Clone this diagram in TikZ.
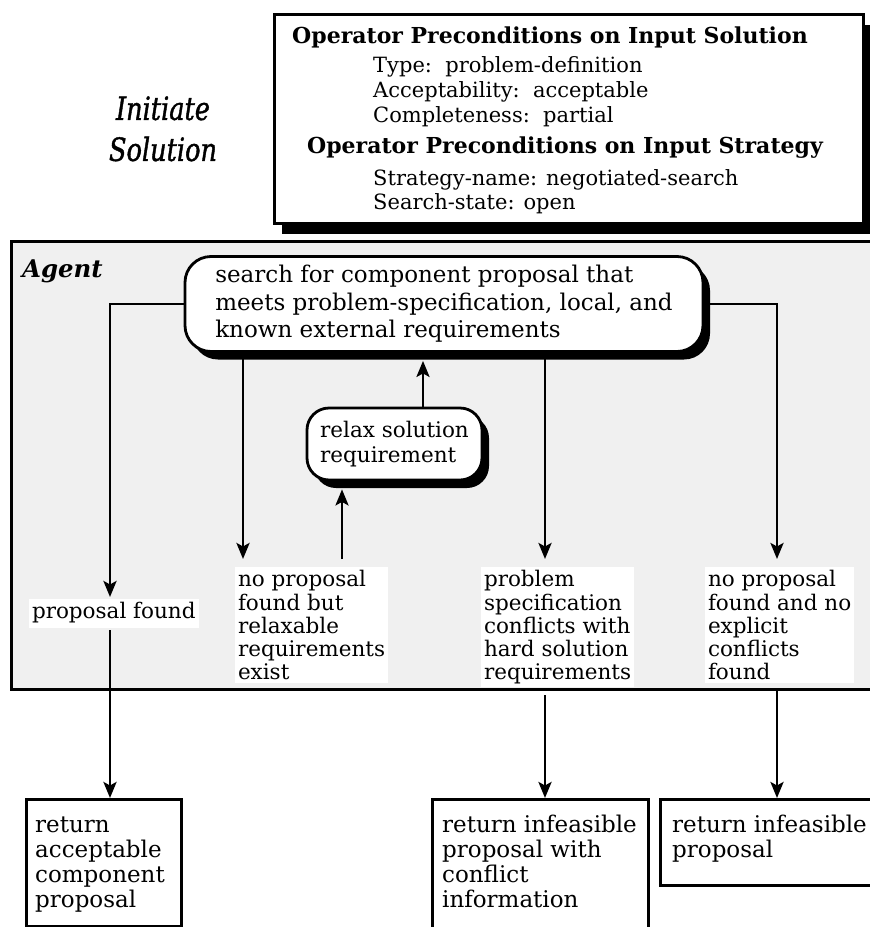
\documentclass[tikz,border=0pt]{standalone}
\usepackage{fontspec}
\setmainfont{DejaVu Serif}
\newfontfamily\titlefont[FakeStretch=0.8,FakeBold=1.2]{DejaVu Serif}
\usetikzlibrary{arrows.meta,shadows}
\newcommand{\fsz}[2]{\fontsize{#1}{#2}\selectfont}
\begin{document}
\begin{tikzpicture}[x=1pt,y=-1pt,
  frame/.style={draw=black, line width=2.8pt, fill=white},
  shadowed/.style={drop shadow={shadow xshift=7pt,shadow yshift=-8pt,opacity=1,fill=black}},
  conn/.style={line width=2.8pt},
  arr/.style={conn,-{Stealth[length=16pt,width=13pt,inset=3.5pt]}},
  lbl/.style={anchor=north west, align=left, fill=white, inner sep=3pt, outer sep=8pt, font=\fsz{21.5}{23}},
  body/.style={anchor=north west, align=left, inner sep=0pt, font=\fsz{23}{25}},
  head/.style={anchor=base, inner sep=0pt, font=\bfseries\fsz{22}{26}},
  item/.style={anchor=base west, inner sep=0pt, font=\fsz{21}{24}},
]
\useasboundingbox (0,0) rectangle (870,927);

% operator preconditions panel
\node[frame, anchor=north west, minimum width=589pt, minimum height=209pt, inner sep=0pt,
  drop shadow={shadow xshift=8pt,shadow yshift=-11pt,opacity=1,fill=black}] (pre) at (273,13) {};
\node[head] (h1) at (550,43) {Operator Preconditions on Input Solution};
\node[item] (i1) at (373,72) {Type:\ \ problem-definition};
\node[item] (i2) at (373,97) {Acceptability:\ \ acceptable};
\node[item] (i3) at (373,122) {Completeness:\ \ partial};
\node[head] (h2) at (565,153) {Operator Preconditions on Input Strategy};
\node[item] (i4) at (373,185) {Strategy-name: negotiated-search};
\node[item] (i5) at (373,209) {Search-state: open};

% operator name
\node[anchor=north, align=center, inner sep=0pt, font=\titlefont\itshape\fsz{32}{41}] (title) at (163,91) {\strut Initiate\\Solution};

% agent region
\node[draw=black, line width=2.8pt, fill=gray!12, anchor=north west, minimum width=880pt, minimum height=448pt, inner sep=0pt] (agentarea) at (10,240) {};
\node[anchor=base west, inner sep=0pt, font=\bfseries\itshape\fsz{24.4}{30}] (agent) at (22,277) {Agent};

% process boxes
\node[frame, shadowed, rounded corners=26pt, minimum width=518pt, minimum height=95pt, align=left, inner sep=0pt, font=\fsz{23}{27.5}] (search) at (444,304) {search for component proposal that\\meets problem-specification, local, and\\known external requirements};
\node[frame, shadowed, rounded corners=22pt, minimum width=175pt, minimum height=72pt, align=left, inner sep=0pt, font=\fsz{21.5}{25}] (relax) at (394.5,444) {relax solution\\requirement};

% outcome labels
\node[lbl, outer sep=2pt] (lbl1) at (27,597) {\strut proposal found};
\node[lbl] (lbl2) at (227,559) {\strut no proposal\\found but\\relaxable\\requirements\\exist};
\node[lbl] (lbl3) at (473,559) {\strut problem\\specification\\conflicts with\\hard solution\\requirements};
\node[lbl] (lbl4) at (697,559) {\strut no proposal\\found and no\\explicit\\conflicts\\found};

% results
\node[frame, anchor=north west, minimum width=155pt, minimum height=127pt, inner sep=0pt] (ret1) at (25,798) {};
\node[body] (ret1t) at (35,814.5) {\strut return\\acceptable\\component\\proposal};
\node[frame, anchor=north west, minimum width=216pt, minimum height=160pt, inner sep=0pt] (ret2) at (431,798) {};
\node[body] (ret2t) at (442,814.5) {\strut return infeasible\\proposal with\\conflict\\information};
\node[frame, anchor=north west, minimum width=230pt, minimum height=86pt, inner sep=0pt] (ret3) at (659,798) {};
\node[body] (ret3t) at (672,814.5) {\strut return infeasible\\proposal};

% connectors
\draw[arr] (search.west) -| (lbl1.north -| 110,0);
\draw[arr] (lbl1.south -| 110,0) -- (ret1.north -| 110,0);
\draw[arr] (search.south -| 243,0) -- (lbl2.north -| 243,0);
\draw[arr, shorten >=8pt] (lbl2.north -| 342,0) -- (relax.south -| 342,0);
\draw[arr, shorten >=8pt] (relax.north -| 423,0) -- (search.south -| 423,0);
\draw[arr] (search.south -| 545,0) -- (lbl3.north -| 545,0);
\draw[arr] (lbl3.south -| 545,0) -- (ret2.north -| 545,0);
\draw[arr] (search.east) -| (lbl4.north -| 777,0);
\draw[arr] (lbl4.south -| 777,0) -- (ret3.north -| 777,0);
\end{tikzpicture}
\end{document}
